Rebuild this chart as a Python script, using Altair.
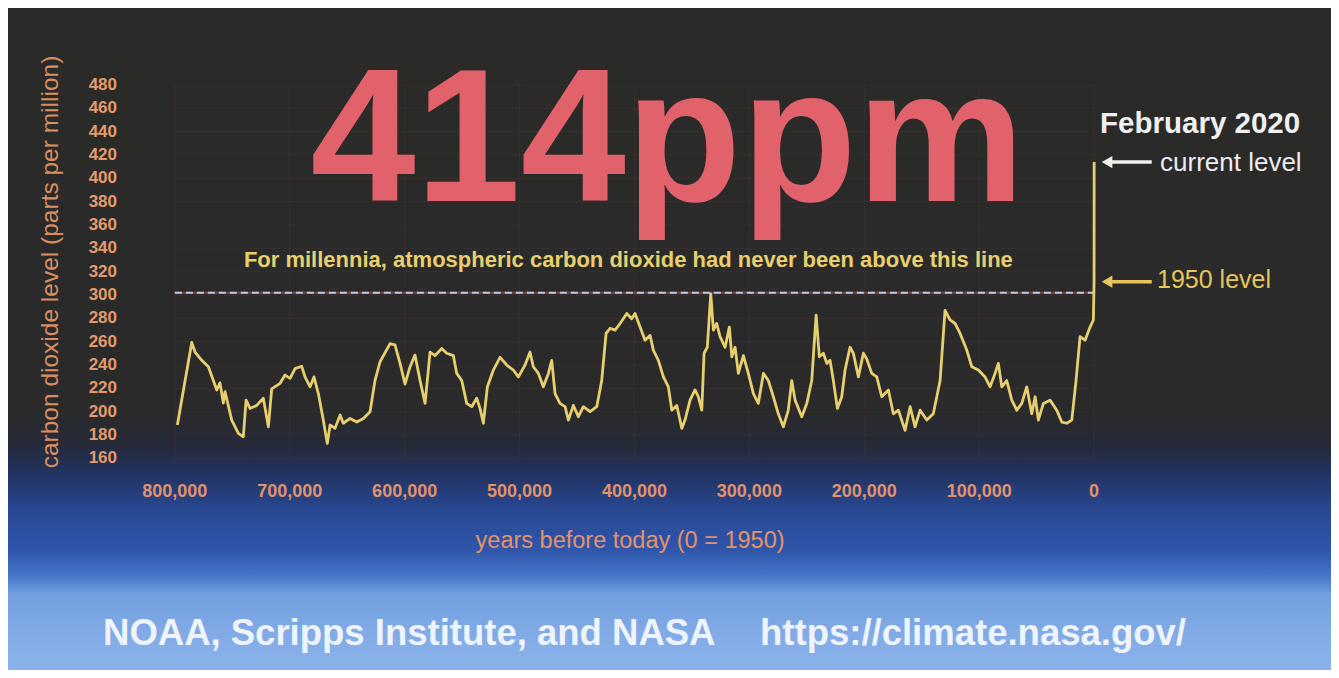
import altair as alt
import pandas as pd

# ---------------- data ----------------
# years before 1950, in thousands of years
years_kyr = [797.8, 785.3, 782.4, 776.6, 770.8, 766.5, 763.5, 760.7, 757.8, 756.3,
             750.5, 744.7, 740.4, 738.0, 734.6, 728.7, 723.0, 718.6, 715.7, 708.4,
             704.1, 699.7, 695.4, 689.6, 686.7, 682.3, 678.9, 675.1, 670.8, 667.3,
             664.9, 660.6, 656.2, 653.4, 647.5, 641.7, 635.9, 630.1, 625.8, 621.4,
             612.7, 608.4, 604.0, 599.7, 595.3, 591.0, 586.6, 582.2, 577.9, 573.5,
             567.7, 563.4, 557.6, 554.7, 550.3, 546.0, 541.6, 537.3, 534.4, 531.5,
             528.0, 522.8, 517.0, 511.1, 505.4, 501.0, 495.2, 490.9, 488.0, 483.6,
             479.3, 474.9, 472.0, 469.1, 464.8, 460.4, 457.5, 453.2, 448.8, 444.5,
             438.6, 432.8, 428.5, 424.7, 421.2, 416.9, 412.5, 406.7, 402.4, 399.5,
             395.1, 390.8, 386.4, 383.6, 379.2, 374.8, 370.5, 367.5, 363.2, 358.8,
             356.0, 351.6, 347.3, 344.4, 341.4, 339.4, 336.6, 333.6, 331.3, 328.4,
             325.5, 321.1, 317.4, 315.3, 312.4, 309.6, 305.2, 300.9, 296.5, 292.2,
             287.8, 283.5, 279.1, 274.8, 270.4, 266.1, 263.1, 260.2, 254.4, 250.0,
             245.7, 241.9, 239.1, 235.6, 232.6, 229.8, 226.9, 223.4, 219.6, 216.7,
             212.4, 209.5, 205.1, 200.8, 197.8, 193.5, 189.1, 184.8, 179.0, 174.7,
             170.3, 164.5, 160.1, 155.8, 151.4, 145.6, 139.9, 134.0, 129.7, 125.3,
             121.0, 116.6, 110.8, 106.4, 100.7, 94.9, 90.5, 86.2, 83.3, 80.3,
             76.0, 71.6, 67.3, 62.9, 58.6, 54.2, 51.3, 48.5, 44.1, 38.3,
             32.5, 28.1, 23.8, 19.4, 15.7, 12.2, 7.8, 3.5, 0.6, 0.0,
             -0.07]
# carbon dioxide, parts per million
co2_ppm = [188.6, 259.3, 251.1, 244.0, 238.5, 226.7, 218.6, 224.7, 207.4, 217.1,
           192.8, 181.4, 178.5, 209.9, 202.8, 205.4, 211.5, 187.0, 219.6, 224.3,
           231.4, 228.6, 236.9, 238.9, 229.8, 221.3, 229.8, 215.5, 192.8, 172.8,
           188.6, 185.7, 197.2, 190.1, 194.2, 191.1, 194.2, 200.0, 226.7, 242.8,
           258.3, 257.3, 241.4, 223.7, 238.5, 248.5, 226.7, 207.1, 251.1, 248.1,
           254.2, 250.1, 248.1, 232.8, 226.7, 207.1, 204.3, 211.5, 202.8, 190.1,
           221.3, 235.7, 246.6, 240.0, 235.7, 229.8, 240.0, 251.1, 238.5, 232.8,
           221.3, 232.8, 244.0, 215.5, 207.1, 204.3, 192.8, 205.4, 195.7, 204.3,
           200.0, 204.3, 226.7, 267.1, 271.5, 269.9, 275.6, 284.2, 279.7, 284.2,
           272.5, 261.3, 265.4, 252.8, 244.0, 229.8, 221.3, 201.3, 205.4, 185.7,
           192.8, 209.9, 218.6, 212.8, 201.3, 250.1, 255.2, 301.0, 269.9, 275.6,
           264.4, 255.2, 272.5, 247.1, 255.2, 232.8, 248.1, 232.8, 215.5, 207.1,
           232.8, 226.7, 212.8, 198.2, 187.0, 201.3, 226.7, 209.9, 195.7, 207.1,
           226.7, 282.7, 247.1, 250.1, 241.4, 244.0, 226.7, 202.8, 212.8, 235.7,
           255.2, 250.1, 229.8, 250.1, 245.1, 232.8, 229.8, 212.8, 218.6, 198.2,
           201.3, 184.0, 204.3, 187.0, 201.3, 192.8, 198.2, 226.7, 286.8, 278.6,
           275.6, 267.1, 252.8, 238.5, 235.7, 229.8, 221.3, 232.8, 241.4, 221.3,
           226.7, 209.9, 201.3, 207.1, 221.3, 198.2, 212.8, 192.8, 207.1, 209.9,
           201.3, 191.1, 190.1, 192.8, 226.7, 264.4, 261.3, 272.5, 278.6, 311.0,
           414.0]

y_ticks = [160, 180, 200, 220, 240, 260, 280, 300, 320, 340, 360, 380, 400, 420, 440, 460, 480]
y_tick_labels = [str(v) for v in y_ticks]
x_ticks = [800, 700, 600, 500, 400, 300, 200, 100, 0]
x_tick_labels = ["800,000", "700,000", "600,000", "500,000", "400,000",
                 "300,000", "200,000", "100,000", "0"]
level_1950 = 302
current_level = 414

# ---------------- layout ----------------
W, H = 1323, 662
FONT = "Liberation Sans"
xs = alt.Scale(domain=[945.2, -206.2], nice=False, zero=False)
ys = alt.Scale(domain=[-21.4, 546.0], nice=False, zero=False)

ORANGE = "#e49a6c"
YELLOW = "#e8cf6e"


def Xf(field):
    return alt.X(field, type="quantitative", scale=xs, axis=None)


def Yf(field):
    return alt.Y(field, type="quantitative", scale=ys, axis=None)


one = pd.DataFrame({"a": [0]})

background = alt.Chart(one).mark_rect(
    fill=alt.Gradient(
        gradient="linear",
        stops=[
            alt.GradientStop(color="#2b2a29", offset=0.0),
            alt.GradientStop(color="#2a2a2b", offset=0.607),
            alt.GradientStop(color="#262a38", offset=0.66),
            alt.GradientStop(color="#223363", offset=0.705),
            alt.GradientStop(color="#284892", offset=0.758),
            alt.GradientStop(color="#2f56ab", offset=0.819),
            alt.GradientStop(color="#4575c8", offset=0.856),
            alt.GradientStop(color="#72a0e0", offset=0.887),
            alt.GradientStop(color="#84ace7", offset=0.955),
            alt.GradientStop(color="#8ab2ea", offset=1.0),
        ],
        x1=0, x2=0, y1=0, y2=1,
    )
).encode(x=alt.value(0), x2=alt.value(W), y=alt.value(0), y2=alt.value(H))

hgrid = alt.Chart(pd.DataFrame({"p": y_ticks})).mark_rule(
    color="#a05248", strokeWidth=1, opacity=0.12
).encode(
    y=Yf("p"),
    x=alt.XDatum(800, scale=xs, axis=None),
    x2=alt.X2Datum(0),
)

vgrid = alt.Chart(pd.DataFrame({"k": x_ticks})).mark_rule(
    color="#a05248", strokeWidth=1, opacity=0.12
).encode(
    x=Xf("k"),
    y=alt.YDatum(160, scale=ys, axis=None),
    y2=alt.Y2Datum(480),
)

# y tick labels, placed through the scales
ylab = alt.Chart(pd.DataFrame({"p": y_ticks, "t": y_tick_labels})).mark_text(
    align="right", baseline="middle", font=FONT, fontSize=17, fontWeight="bold", color=ORANGE
).encode(
    x=alt.XDatum(850.3, scale=xs, axis=None),
    y=Yf("p"),
    text="t:N",
)

# x tick labels
xlab = alt.Chart(pd.DataFrame({"k": x_ticks, "t": x_tick_labels})).mark_text(
    align="center", baseline="middle", font=FONT, fontSize=18, fontWeight="bold", color="#e2926a"
).encode(
    x=Xf("k"),
    y=alt.YDatum(131.1, scale=ys, axis=None),
    text="t:N",
)

dash_df = pd.DataFrame({"p": [level_1950]})
dash_under = alt.Chart(dash_df).mark_rule(color="#7a4440", strokeWidth=2).encode(
    y=Yf("p"), x=alt.XDatum(800, scale=xs, axis=None), x2=alt.X2Datum(0)
)
dash_over = alt.Chart(dash_df).mark_rule(
    color="#c4c6ea", strokeWidth=2, strokeDash=[7, 4]
).encode(y=Yf("p"), x=alt.XDatum(800, scale=xs, axis=None), x2=alt.X2Datum(0))

curve = alt.Chart(pd.DataFrame({"kyr": years_kyr, "ppm": co2_ppm})).mark_line(
    color=YELLOW, strokeWidth=2.8, strokeJoin="round"
).encode(x=Xf("kyr"), y=Yf("ppm"))


def label(text, kyr, ppm, size, color, weight="normal", align="left",
          baseline="alphabetic", angle=0):
    return alt.Chart(pd.DataFrame({"k": [kyr], "p": [ppm], "t": [text]})).mark_text(
        align=align, baseline=baseline, fontSize=size, font=FONT,
        fontWeight=weight, color=color, angle=angle,
    ).encode(x=Xf("k"), y=Yf("p"), text="t:N")


def arrow(kyr_head, kyr_tail, ppm, color):
    df = pd.DataFrame({"k1": [kyr_head], "k2": [kyr_tail], "p": [ppm]})
    shaft = alt.Chart(df).mark_rule(color=color, strokeWidth=3.5).encode(
        x=Xf("k1"), x2="k2:Q", y=Yf("p")
    )
    head = alt.Chart(df).mark_point(
        shape="triangle-left", filled=True, opacity=1, size=150, color=color
    ).encode(x=Xf("k1"), y=Yf("p"))
    return shaft + head


ytitle = label("carbon dioxide level (parts per million)", 901.7, 328.3, 24.5, "#d98e60",
               align="center", baseline="alphabetic", angle=270)
xtitle = label("years before today (0 = 1950)", 403.8, 89.1, 23.5, "#e2926a",
               align="center", baseline="middle")
big = label("414ppm", 371.2, 380.5, 189, "#e2626c", weight="bold", align="center")
note = label("For millennia, atmospheric carbon dioxide had never been above this line",
             405.3, 324.0, 22, YELLOW, weight="bold", align="center")
feb = label("February 2020", -92.3, 438.8, 29.5, "#f0f0f0", weight="bold", align="center")
cur = label("current level", -57.4, 406.3, 26, "#ececf2")
lvl = label("1950 level", -54.8, 305.7, 25, "#e6c65a")
arrow_cur = arrow(-11.3, -50.2, current_level, "#f0f0f0")
arrow_1950 = arrow(-11.3, -50.2, 311.4, "#e6c65a")
credit1 = label("NOAA, Scripps Institute, and NASA", 862.5, 0.0, 36.5, "#eef3fc", weight="bold")
credit2 = label("https://climate.nasa.gov/", 290.7, 0.0, 36.5, "#eef3fc", weight="bold")

chart = alt.layer(
    background, hgrid, vgrid, dash_under, dash_over, curve,
    ylab, xlab, ytitle, xtitle,
    big, note, feb, cur, lvl, arrow_cur, arrow_1950, credit1, credit2,
).properties(
    width=W, height=H, padding=0,
    autosize=alt.AutoSizeParams(type="none"),
    background="#2b2a29",
).configure_view(stroke=None)

chart.save("out.html", embed_options={"renderer": "svg", "actions": False})
